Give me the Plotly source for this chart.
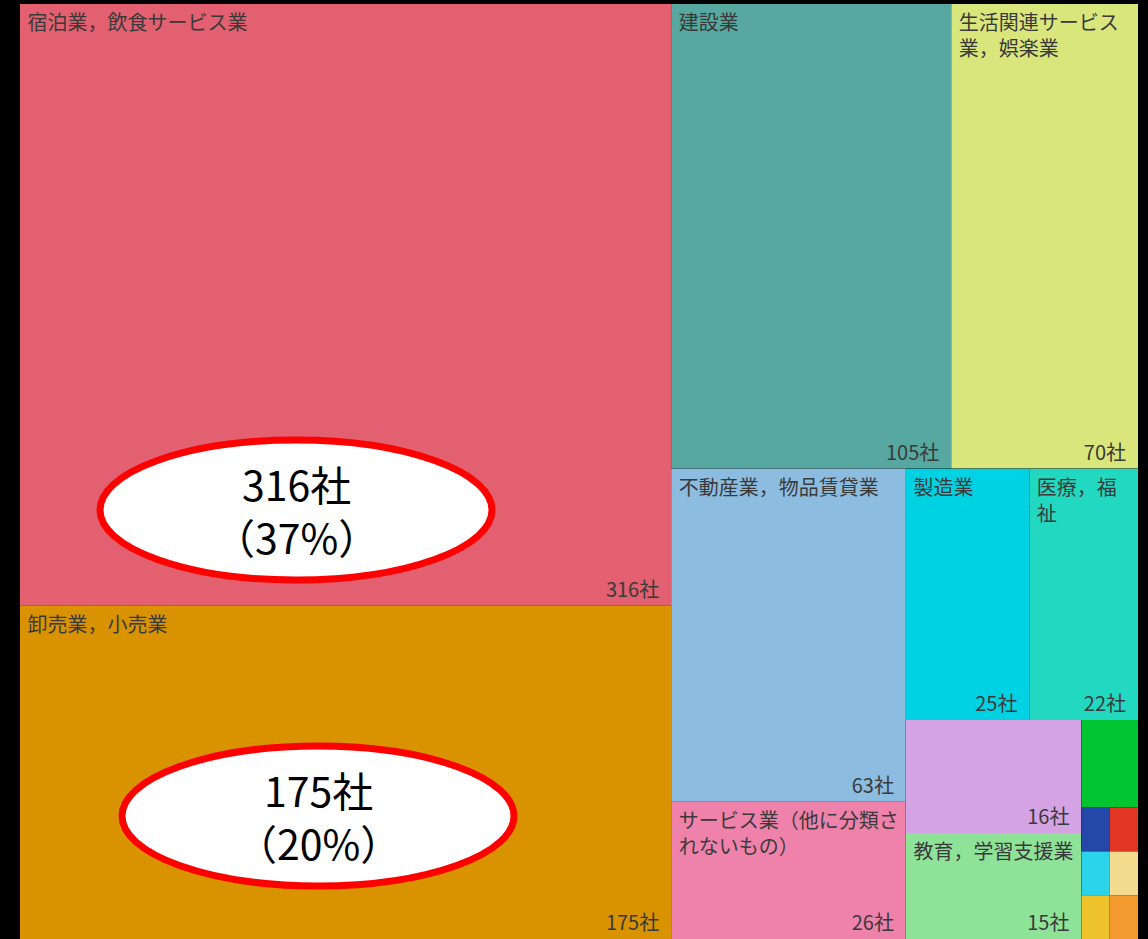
import plotly.graph_objects as go

# ---------------- data ----------------
industries = [
    "宿泊業，飲食サービス業", "卸売業，小売業", "建設業", "生活関連サービス業，娯楽業",
    "不動産業，物品賃貸業", "サービス業（他に分類されないもの）", "製造業", "医療，福祉",
    "その他1", "教育，学習支援業",
    "その他2", "その他3", "その他4", "その他5", "その他6", "その他7", "その他8",
]
companies = [316, 175, 105, 70, 63, 26, 25, 22, 16, 15, 4, 1, 1, 1, 1, 1, 1]
# text lines shown in the cell (top-left); [] = no label visible in the original
cell_label_lines = [
    ["宿泊業，飲食サービス業"], ["卸売業，小売業"], ["建設業"], ["生活関連サービス", "業，娯楽業"],
    ["不動産業，物品賃貸業"], ["サービス業（他に分類さ", "れないもの）"], ["製造業"], ["医療，福", "祉"],
    [], ["教育，学習支援業"],
    [], [], [], [], [], [], [],
]
show_value = [True] * 10 + [False] * 7
value_suffix = "社"
callout_index = [0, 1]          # categories with callouts
callout_pct = [37, 20]          # percentages printed in the callouts

# ---------------- styles ----------------
cell_colors = [
    "#e2606f", "#d99200", "#57a8a0", "#d9e67c",
    "#8cbde0", "#ee82aa", "#00d2e3", "#22d8c0",
    "#d3a3e3", "#8fe398",
    "#00c530", "#2448a8", "#e23624", "#2ad2ea", "#f3dc90", "#eec22a", "#f29a30",
]

# ---------------- layout structure (slice/dice grouping) ----------------
groups = [  # (id, parent)
    ("root", ""),
    ("L", "root"), ("R", "root"),
    ("Rt", "R"), ("Rb", "R"),
    ("C1", "Rb"), ("C2", "Rb"),
    ("C2a", "C2"), ("C2b", "C2"),
    ("C2b1", "C2b"), ("S", "C2b"),
    ("S0", "S"), ("S1", "S"), ("S2", "S"), ("S3", "S"),
]
leaf_parent = ["L", "L", "Rt", "Rt", "C1", "C1", "C2a", "C2a", "C2b1", "C2b1",
               "S0", "S1", "S1", "S2", "S2", "S3", "S3"]

NB = "\u00a0"
ids = [g[0] for g in groups] + industries
parents = [g[1] for g in groups] + leaf_parent
values = [0] * len(groups) + companies
labels = [""] * len(groups) + industries
colors_main = ["#000000"] * len(groups) + cell_colors
texts_main = [""] * len(groups) + ["<br>".join(NB + ln for ln in lines) for lines in cell_label_lines]
texts_val = [""] * len(groups) + [
    (f"{v}{value_suffix}{NB}{NB}" if s else "") for v, s in zip(companies, show_value)
]
transparent = ["rgba(0,0,0,0)"] * len(ids)

FONT = "Noto Sans CJK JP"
common = dict(
    ids=ids, parents=parents, values=values, labels=labels,
    branchvalues="remainder", sort=False,
    tiling=dict(packing="slice-dice", pad=0),
    pathbar=dict(visible=False),
    textinfo="text",
    hoverinfo="label+value",
    domain=dict(x=[0, 1], y=[0, 1]),
)

fig = go.Figure()
fig.add_trace(go.Treemap(
    **common,
    text=texts_main,
    textposition="top left",
    textfont=dict(family=FONT, size=20, color="#3a3a3a"),
    marker=dict(colors=colors_main, line=dict(width=0), pad=dict(t=0, l=0, r=0, b=0),
                depthfade=False),
    root=dict(color="#000000"),
))
fig.add_trace(go.Treemap(
    **common,
    text=texts_val,
    textposition="bottom right",
    textfont=dict(family=FONT, size=20, color="#3a3a3a"),
    marker=dict(colors=transparent, line=dict(width=0), pad=dict(t=0, l=0, r=0, b=0),
                depthfade=False),
    root=dict(color="rgba(0,0,0,0)"),
))

# ---------------- callouts ----------------
W, H, ML, MR, MT, MB = 1148, 939, 20, 10, 4, 0
pw, ph = W - ML - MR, H - MT - MB


def px_x(v):
    return (v - ML) / pw


def px_y(v):
    return 1 - (v - MT) / ph


callout_boxes = [(100, 440, 492, 580), (122, 746, 514, 886)]  # pixel boxes of the ellipses
for idx, pct, (x0, y0, x1, y1) in zip(callout_index, callout_pct, callout_boxes):
    fig.add_shape(type="circle", xref="paper", yref="paper",
                  x0=px_x(x0), x1=px_x(x1), y0=px_y(y1), y1=px_y(y0),
                  fillcolor="white", line=dict(color="#ff0000", width=7), layer="above")
    fig.add_annotation(xref="paper", yref="paper",
                       x=px_x((x0 + x1) / 2), y=px_y((y0 + y1) / 2 - 1),
                       text=f"{companies[idx]}{value_suffix}<br>（{pct}%）",
                       showarrow=False, xanchor="center", yanchor="middle",
                       font=dict(family=FONT, size=41, color="#000000"))

fig.update_layout(
    width=W, height=H,
    margin=dict(l=ML, r=MR, t=MT, b=MB),
    paper_bgcolor="#000000", plot_bgcolor="#000000",
    uniformtext=dict(mode="show", minsize=20),
    showlegend=False,
)

fig.write_html("out.html")
